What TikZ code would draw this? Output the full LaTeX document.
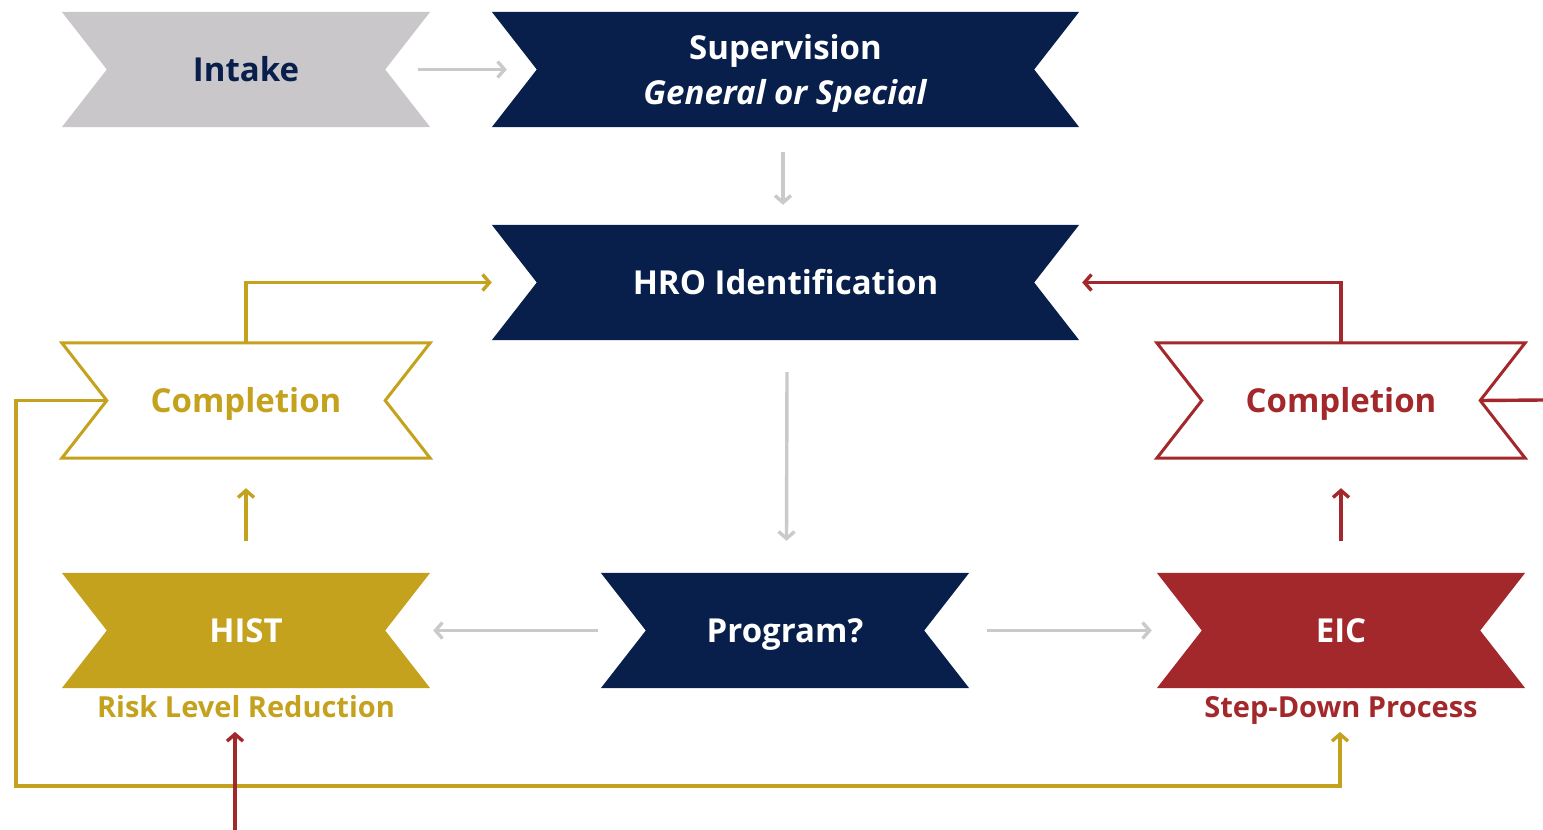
\documentclass[tikz,border=0pt]{standalone}
\usepackage{fontspec}
\setmainfont{Open Sans}
\usetikzlibrary{arrows.meta,backgrounds}
\definecolor{navy}{HTML}{081F4C}
\definecolor{gold}{HTML}{C4A21D}
\definecolor{darkred}{HTML}{A3282B}
\definecolor{lgray}{HTML}{C9C7C9}
\definecolor{agray}{HTML}{CACACA}
\tikzset{
  ribbon/.style={minimum width=368pt, minimum height=115pt, inner sep=0pt,
    align=center, text=white, text height=23.6pt, text depth=0pt,
    font=\bfseries\fontsize{33}{45}\selectfont},
  wide/.style={minimum width=587pt},
  sublabel/.style={text height=20.7pt, text depth=0pt,
    font=\bfseries\fontsize{29}{30}\selectfont},
  garrow/.style={draw=agray, line width=3.4pt, ->},
  goldline/.style={draw=gold, line width=3.4pt},
  redline/.style={draw=darkred, line width=3.4pt},
}
% banner with a notch on both ends
\newcommand\ribbonpath[2]{%
  \path[#2] (#1.north west) -- (#1.north east) -- ([xshift=-45pt]#1.east)
    -- (#1.south east) -- (#1.south west) -- ([xshift=45pt]#1.west) -- cycle;}
\begin{document}
\begin{tikzpicture}[x=1pt,y=-1pt,>={Straight Barb[length=7pt,width=16pt]}]
  \useasboundingbox (0,0) rectangle (1543,830);
  \node[ribbon, text=navy] (intake) at (246,69.5) {Intake};
  \node[minimum width=587pt, minimum height=115pt, inner sep=0pt] (superv) at (785.5,69.5) {};
  \node[font=\bfseries\fontsize{33}{45}\selectfont, text=white, align=center] (supervtxt) at (785.5,73.5)
    {Supervision\\\textit{General or Special}};
  \node[ribbon, wide] (hro) at (785.5,282.5) {HRO Identification};
  \node[ribbon, text=gold] (complL) at (246,400.5) {Completion};
  \node[ribbon, text=darkred] (complR) at (1341,400.5) {Completion};
  \node[ribbon] (hist) at (246,630.5) {HIST};
  \node[ribbon] (prog) at (785,630.5) {Program?};
  \node[ribbon] (eic) at (1341,630.5) {EIC};
  \node[sublabel, text=gold] (riskL) at (246,707) {Risk Level Reduction};
  \node[sublabel, text=darkred] (stepR) at (1341,707) {Step-Down Process};
  \coordinate (loopL) at (16,786);
  \coordinate (exitR) at (1543,400);
  \coordinate (entryB) at (235,830);
  \begin{scope}[on background layer]
    \ribbonpath{intake}{fill=lgray}
    \ribbonpath{superv}{fill=navy}
    \ribbonpath{hro}{fill=navy}
    \ribbonpath{complL}{draw=gold, line width=3pt}
    \ribbonpath{complR}{draw=darkred, line width=3pt}
    \ribbonpath{hist}{fill=gold}
    \ribbonpath{prog}{fill=navy}
    \ribbonpath{eic}{fill=darkred}
  \end{scope}
  % gray flow
  \draw[garrow] ([xshift=-12pt]intake.east) -- ([xshift=15pt]superv.west);
  \draw[garrow] ([xshift=-2.5pt,yshift=-25pt]superv.south) -- ([xshift=-2.5pt,yshift=20pt]hro.north);
  \draw[garrow] ([xshift=1.5pt,yshift=-32pt]hro.south) -- ([xshift=1.5pt,yshift=32pt]prog.north);
  \draw[garrow] ([xshift=-3pt]prog.west) -- ([xshift=3pt]hist.east);
  \draw[garrow] ([xshift=18pt]prog.east) -- ([xshift=-5pt]eic.west);
  % completion paths
  \draw[goldline, ->] ([yshift=32pt]hist.north) -- ([yshift=-30pt]complL.south);
  \draw[redline, ->] ([yshift=32pt]eic.north) -- ([yshift=-30pt]complR.south);
  \draw[goldline, ->] (complL.north) |- (hro.west);
  \draw[redline, ->] (complR.north) |- ([xshift=3pt]hro.east);
  \draw[goldline, ->] ([xshift=45pt]complL.west) -| (loopL) -| ([xshift=-1pt,yshift=-11pt]stepR.south);
  \draw[redline] ([xshift=-45pt]complR.east) -- (exitR);
  \draw[redline, ->] (entryB) -- ([yshift=-11pt]entryB |- riskL.south);
\end{tikzpicture}
\end{document}
